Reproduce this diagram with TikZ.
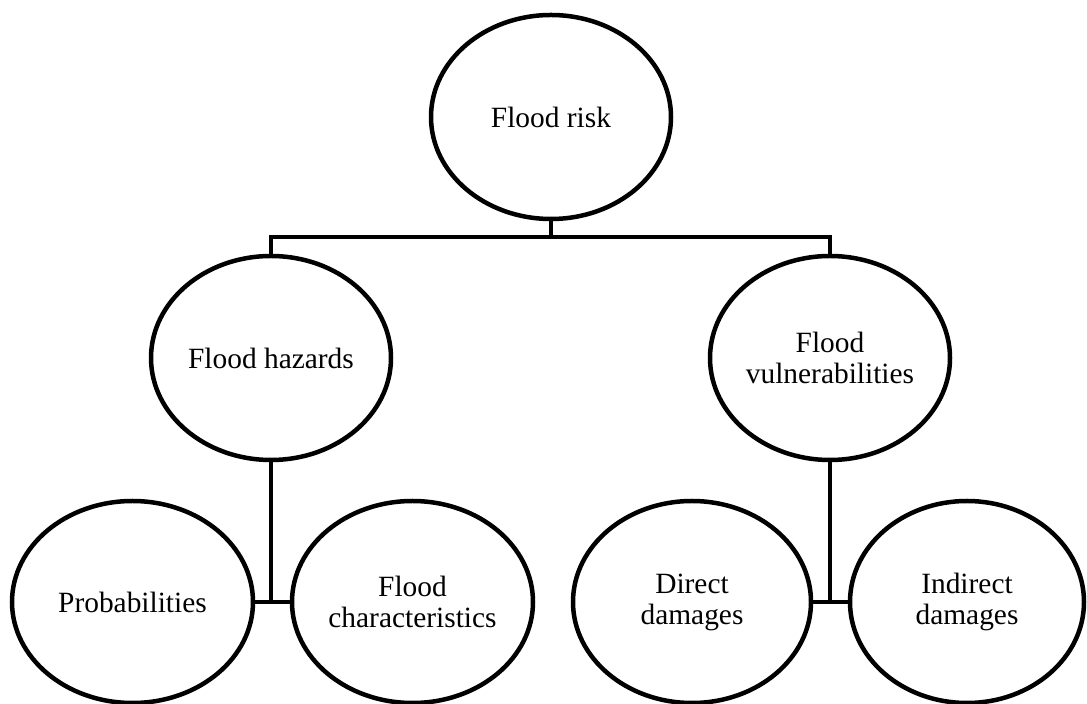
\documentclass[tikz,border=0pt]{standalone}
\usepackage{fontspec}
\setmainfont{Liberation Serif}
\usetikzlibrary{shapes.geometric}
\begin{document}
\begin{tikzpicture}[x=1pt,y=1pt,
  bubble/.style={draw=black, line width=4.5pt, ellipse, inner sep=0pt,
    minimum width=240pt, minimum height=204pt, align=center,
    font=\fontsize{29.4}{31}\selectfont},
  link/.style={draw=black, line width=4.5pt, line join=miter}]
\useasboundingbox (0,0) rectangle (1087,704);
\node[bubble] (risk) at (551,587) {Flood risk};
\node[bubble] (hazards) at (271,346) {Flood hazards};
\node[bubble] (vuln) at (830,346) {Flood\\vulnerabilities};
\node[bubble, minimum width=241pt, minimum height=202pt] (prob) at (132.5,102) {Probabilities};
\node[bubble, minimum width=241pt, minimum height=202pt] (char) at (412.5,102) {Flood\\characteristics};
\node[bubble, minimum width=238pt, minimum height=202pt] (direct) at (692,102) {Direct\\damages};
\node[bubble, minimum width=234pt, minimum height=202pt] (indirect) at (967,102) {Indirect\\damages};
\coordinate (bus) at (551,467);
\draw[link] (risk.south) -- (bus);
\draw[link] (hazards.north) |- (bus) -| (vuln.north);
\draw[link] (hazards.south) -- (hazards.south |- prob.east);
\draw[link] (prob.east) -- (char.west);
\draw[link] (vuln.south) -- (vuln.south |- direct.east);
\draw[link] (direct.east) -- (indirect.west);
\end{tikzpicture}
\end{document}
